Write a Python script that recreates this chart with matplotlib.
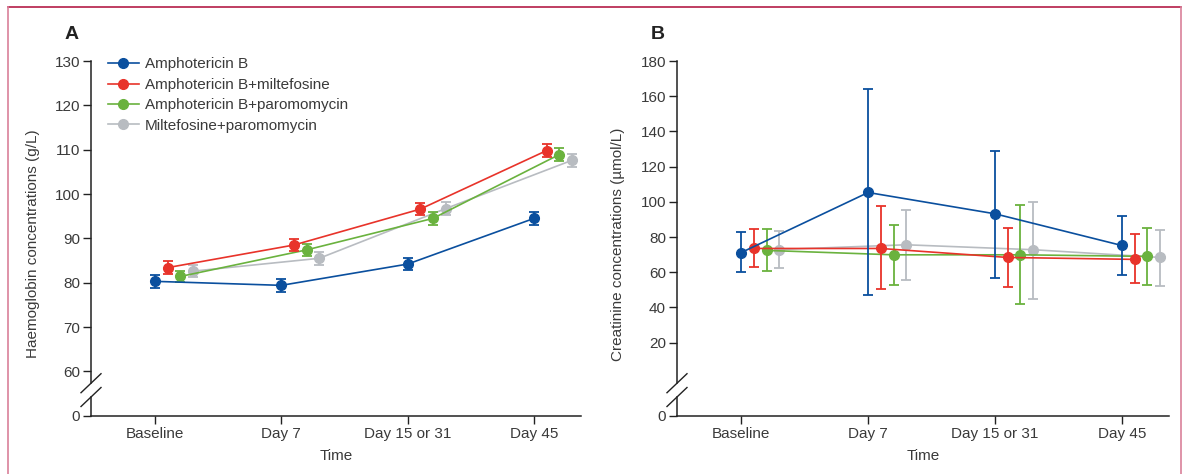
import numpy as np
import matplotlib
matplotlib.use('Agg')
import matplotlib.pyplot as plt
from matplotlib.lines import Line2D

plt.rcParams['font.family'] = ['Liberation Sans', 'DejaVu Sans']
plt.rcParams['font.size'] = 11

# dados
tempos = ['Baseline', 'Day 7', 'Day 15 or 31', 'Day 45']
grupos = ['Amphotericin B', 'Amphotericin B+miltefosine',
          'Amphotericin B+paromomycin', 'Miltefosine+paromomycin']
cores = ['#0a4f9e', '#e8332a', '#6ab23e', '#b8bcc1']

# haemoglobina (g/L), media e erro
hb_ambi = [80.3, 79.4, 84.2, 94.5]
hb_ambi_milt = [83.4, 88.5, 96.6, 109.8]
hb_ambi_paro = [81.4, 87.4, 94.5, 108.9]
hb_milt_paro = [82.6, 85.5, 96.7, 107.6]
hb_err_ambi = [1.5, 1.5, 1.4, 1.4]
hb_err_ambi_milt = [1.4, 1.4, 1.4, 1.4]
hb_err_ambi_paro = [1.3, 1.4, 1.4, 1.4]
hb_err_milt_paro = [1.3, 1.4, 1.4, 1.4]

# creatinina (umol/L), media, limite inferior e superior
cr_ambi = [71.2, 105.3, 93.2, 75.2]
cr_ambi_lo = [59.9, 47.2, 56.9, 58.4]
cr_ambi_hi = [82.8, 164.1, 129.0, 92.1]
cr_ambi_milt = [73.5, 73.5, 68.4, 67.3]
cr_ambi_milt_lo = [62.7, 50.2, 51.5, 53.9]
cr_ambi_milt_hi = [84.3, 97.9, 84.9, 81.5]
cr_ambi_paro = [72.4, 69.9, 69.9, 69.0]
cr_ambi_paro_lo = [60.5, 52.7, 41.7, 52.7]
cr_ambi_paro_hi = [84.3, 87.1, 98.4, 84.9]
cr_milt_paro = [72.9, 75.6, 72.8, 68.4]
cr_milt_paro_lo = [62.4, 55.7, 45.0, 52.3]
cr_milt_paro_hi = [83.2, 95.1, 99.7, 84.0]

hb_medias = [hb_ambi, hb_ambi_milt, hb_ambi_paro, hb_milt_paro]
hb_erros = [hb_err_ambi, hb_err_ambi_milt, hb_err_ambi_paro, hb_err_milt_paro]
cr_medias = [cr_ambi, cr_ambi_milt, cr_ambi_paro, cr_milt_paro]
cr_lo = [cr_ambi_lo, cr_ambi_milt_lo, cr_ambi_paro_lo, cr_milt_paro_lo]
cr_hi = [cr_ambi_hi, cr_ambi_milt_hi, cr_ambi_paro_hi, cr_milt_paro_hi]


# escalas com quebra no eixo y
def fwd_a(y):
    y = np.asarray(y, dtype=float)
    return np.where(y >= 60, y, 50 + y / 6)


def inv_a(y):
    y = np.asarray(y, dtype=float)
    return np.where(y >= 60, y, (y - 50) * 6)


def fwd_b(y):
    y = np.asarray(y, dtype=float)
    return np.where(y >= 20, y, -21.5 + y * 41.5 / 20)


def inv_b(y):
    y = np.asarray(y, dtype=float)
    return np.where(y >= 20, y, (y + 21.5) * 20 / 41.5)


texto = '#3a3a3a'
fig = plt.figure(figsize=(11.85, 4.74), dpi=100)
ax_a = fig.add_axes([0.0768, 0.123, 0.4135, 0.7483])
ax_b = fig.add_axes([0.5713, 0.123, 0.4152, 0.7483])

x = np.arange(len(tempos))
offs = [0.0, 0.1, 0.2, 0.3]

for i in range(4):
    ax_a.errorbar(x + offs[i], hb_medias[i], yerr=hb_erros[i], color=cores[i],
                  marker='o', markersize=7, linewidth=1.2, elinewidth=1.3,
                  capsize=3.6, capthick=1.3, zorder=4 - i)
    m = np.array(cr_medias[i])
    yerr = [m - np.array(cr_lo[i]), np.array(cr_hi[i]) - m]
    ax_b.errorbar(x + offs[i], m, yerr=yerr, color=cores[i],
                  marker='o', markersize=7, linewidth=1.2, elinewidth=1.3,
                  capsize=3.6, capthick=1.3, zorder=4 - i)

ax_a.set_yscale('function', functions=(fwd_a, inv_a))
ax_a.set_ylim(0, 130)
ax_a.set_yticks([0, 60, 70, 80, 90, 100, 110, 120, 130])
ax_b.set_yscale('function', functions=(fwd_b, inv_b))
ax_b.set_ylim(0, 180)
ax_b.set_yticks([0, 20, 40, 60, 80, 100, 120, 140, 160, 180])

for ax, rotulo, letra in [(ax_a, 'Haemoglobin concentrations (g/L)', 'A'),
                          (ax_b, 'Creatinine concentrations (µmol/L)', 'B')]:
    ax.set_xlim(-0.507, 3.372)
    ax.set_xticks(x)
    ax.set_xticklabels(tempos)
    ax.minorticks_off()
    ax.set_ylabel(rotulo, color=texto, fontsize=11)
    ax.yaxis.set_label_coords(-0.105, 0.484)
    ax.set_xlabel('Time', color=texto, fontsize=11)
    ax.xaxis.set_label_coords(0.5, -0.093)
    ax.tick_params(direction='out', length=5.5, width=1, color='#222222',
                   labelcolor=texto, labelsize=11, pad=2.5)
    for lado in ['top', 'right', 'left']:
        ax.spines[lado].set_visible(False)
    ax.spines['bottom'].set_color('#222222')
    ax.spines['bottom'].set_linewidth(1.1)
    # eixo y com quebra
    ax.plot([0, 0], [0.0916, 1], transform=ax.transAxes, color='#222222',
            linewidth=1.1, clip_on=False)
    ax.plot([0, 0], [0, 0.0527], transform=ax.transAxes, color='#222222',
            linewidth=1.1, clip_on=False)
    dx = 10 / ax.bbox.width
    dy = 9.5 / 354.7
    for yc in [0.0916, 0.0527]:
        ax.plot([-dx, dx], [yc - dy, yc + dy], transform=ax.transAxes,
                color='#222222', linewidth=1.0, clip_on=False)
    ax.text(-0.04, 1.076, letra, transform=ax.transAxes, fontsize=14,
            fontweight='bold', color='#222222', ha='center', va='center')

# legenda só com linha e marcador
alcas = [Line2D([], [], color=c, marker='o', markersize=7, linewidth=1.2)
         for c in cores]
ax_a.legend(alcas, grupos, loc='upper left', bbox_to_anchor=(0.035, 1.01),
            frameon=False, borderpad=0, borderaxespad=0, handlelength=2.0,
            handletextpad=0.4, labelspacing=0.42, fontsize=11, labelcolor=texto)

# moldura
fig.add_artist(Line2D([0.0068, 0.9966], [0.9852, 0.9852], color='#b41d47', linewidth=1.2))
fig.add_artist(Line2D([0.0068, 0.0068], [0, 0.9852], color='#d98099', linewidth=1.2))
fig.add_artist(Line2D([0.9966, 0.9966], [0, 0.9852], color='#d98099', linewidth=1.2))

fig.savefig('out.png', dpi=100)
